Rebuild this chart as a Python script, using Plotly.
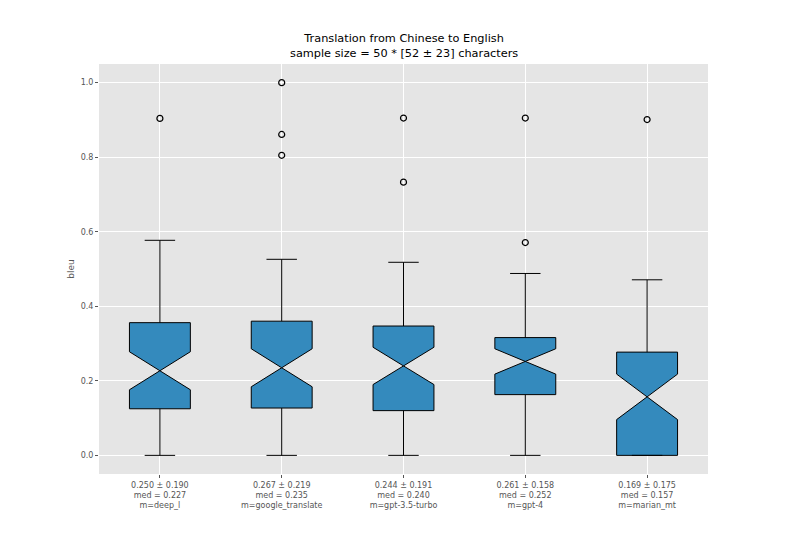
import plotly.graph_objects as go

models = ["deep_l", "google_translate", "gpt-3.5-turbo", "gpt-4", "marian_mt"]
means = ["0.250", "0.267", "0.244", "0.261", "0.169"]
stds = ["0.190", "0.219", "0.191", "0.158", "0.175"]
medians = [0.227, 0.235, 0.240, 0.252, 0.157]
q1 = [0.125, 0.127, 0.120, 0.163, 0.0]
q3 = [0.356, 0.360, 0.347, 0.316, 0.277]
lower_whisker = [0.0, 0.0, 0.0, 0.0, 0.0]
upper_whisker = [0.577, 0.526, 0.518, 0.488, 0.471]
notch_half = [0.051, 0.051, 0.050, 0.034, 0.061]
outliers = [
    [0.904],
    [1.0, 0.861, 0.805],
    [0.905, 0.733],
    [0.905, 0.571],
    [0.901],
]

positions = list(range(1, len(models) + 1))
ticktext = [f"{m} ± {s}<br>med = {md:.3f}<br>m={name}"
            for m, s, md, name in zip(means, stds, medians, models)]

fig = go.Figure()
fig.add_trace(go.Box(
    x=positions, q1=q1, median=medians, q3=q3,
    lowerfence=lower_whisker, upperfence=upper_whisker,
    notchspan=notch_half, notched=True, notchwidth=0.5,
    whiskerwidth=0.5, width=0.5, orientation="v",
    fillcolor="#348ABD", line=dict(color="black", width=1),
    boxpoints=False, showlegend=False, hoverinfo="skip",
))

ox, oy = [], []
for p, vals in zip(positions, outliers):
    for v in vals:
        ox.append(p)
        oy.append(v)
fig.add_trace(go.Scatter(
    x=ox, y=oy, mode="markers", showlegend=False,
    marker=dict(symbol="circle-open", size=6, color="black",
                line=dict(width=1.2, color="black")),
))

fig.update_layout(
    width=778, height=525,
    paper_bgcolor="white", plot_bgcolor="#E5E5E5",
    margin=dict(l=91, r=78, t=56, b=59),
    font=dict(family="DejaVu Sans", color="#555555", size=8),
    annotations=[dict(
        text="Translation from Chinese to English<br>sample size = 50 * [52 ± 23] characters",
        x=0.5, xref="paper", xanchor="center",
        y=1, yref="paper", yanchor="bottom", yshift=2,
        showarrow=False, align="center",
        font=dict(family="DejaVu Sans", size=11.3, color="black"),
    )],
)
fig.update_xaxes(
    range=[0.5, 5.5], tickmode="array", tickvals=positions, ticktext=ticktext,
    showgrid=True, gridcolor="white", gridwidth=1, zeroline=False,
    ticks="outside", ticklen=3, tickwidth=0.8, tickcolor="#555555",
    tickfont=dict(size=8, color="#555555"),
)
fig.update_yaxes(
    range=[-0.05, 1.05], tickmode="array",
    tickvals=[0.0, 0.2, 0.4, 0.6, 0.8, 1.0],
    ticktext=["0.0", "0.2", "0.4", "0.6", "0.8", "1.0"],
    showgrid=True, gridcolor="white", gridwidth=1, zeroline=False,
    ticks="outside", ticklen=3, tickwidth=0.8, tickcolor="#555555",
    tickfont=dict(size=8, color="#555555"),
    title=dict(text="bleu", font=dict(family="DejaVu Sans", size=9, color="#555555"), standoff=4),
)

fig.write_html("out.html")
